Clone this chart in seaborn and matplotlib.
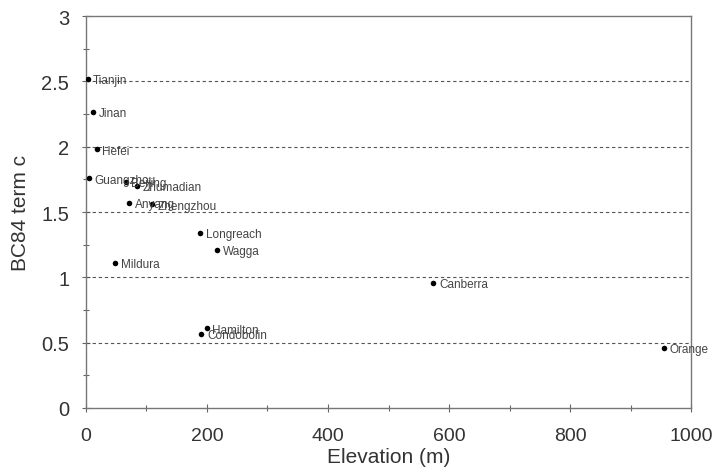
import matplotlib
matplotlib.use("Agg")
import matplotlib.pyplot as plt
import seaborn as sns
import pandas as pd
from matplotlib.ticker import MultipleLocator, FuncFormatter

sites = ["Tianjin", "Jinan", "Hefei", "Guangzhou", "Beijing", "Zhumadian", "Anyang",
         "Zhengzhou", "Longreach", "Wagga", "Mildura", "Canberra", "Hamilton",
         "Condobolin", "Orange"]
elevation = [3, 12, 18, 5, 66, 84, 72, 110, 189, 217, 49, 574, 200, 191, 954]
bc84_c = [2.52, 2.27, 1.98, 1.76, 1.73, 1.70, 1.57, 1.56, 1.34, 1.21, 1.11, 0.96,
          0.61, 0.57, 0.46]

df = pd.DataFrame({"site": sites, "elev": elevation, "c": bc84_c})

sns.set_style("white")
plt.rcParams['font.family'] = ['Liberation Sans', 'DejaVu Sans']

fig = plt.figure(figsize=(7.15, 4.77), dpi=100)
ax = fig.add_axes([0.120, 0.1426, 0.847, 0.8214])

sns.scatterplot(data=df, x="elev", y="c", ax=ax, color="black", s=16,
                edgecolor="black", linewidth=0, zorder=3)

for s, xv, yv in zip(sites, elevation, bc84_c):
    ax.annotate(s, (xv, yv), xytext=(4, -1), textcoords="offset points",
                fontsize=8.5, color="#444444", va="center", ha="left", zorder=4)

ax.set_xlim(0, 1000)
ax.set_ylim(0, 3)
ax.xaxis.set_major_locator(MultipleLocator(200))
ax.xaxis.set_minor_locator(MultipleLocator(100))
ax.yaxis.set_major_locator(MultipleLocator(0.5))
ax.yaxis.set_minor_locator(MultipleLocator(0.25))
ax.yaxis.set_major_formatter(FuncFormatter(lambda v, p: f"{v:g}"))

for yv in [0.5, 1.0, 1.5, 2.0, 2.5]:
    ax.axhline(yv, color="#555555", linestyle=(0, (3, 2.5)), linewidth=0.8, zorder=1)

ax.tick_params(axis="both", which="major", direction="inout", length=6, width=0.8,
               color="#666666", labelsize=14.5, labelcolor="#333333")
ax.tick_params(axis="y", which="major", pad=9)
ax.tick_params(axis="x", which="major", pad=11, labelsize=14)
ax.tick_params(axis="both", which="minor", direction="inout", length=4, width=0.8,
               color="#666666")
ax.tick_params(axis="x", which="both", bottom=True)
ax.tick_params(axis="y", which="both", left=True)

for sp in ax.spines.values():
    sp.set_color("#777777")
    sp.set_linewidth(1.0)

ax.set_xlabel("Elevation (m)", fontsize=15, color="#333333", labelpad=2)
ax.set_ylabel("BC84 term c", fontsize=15, color="#333333", labelpad=8)

fig.savefig("out.png", dpi=100)
